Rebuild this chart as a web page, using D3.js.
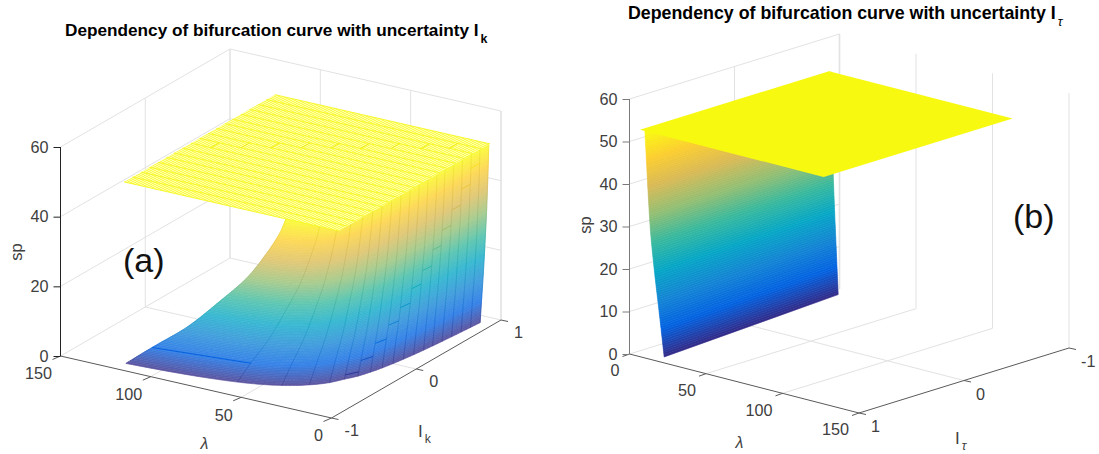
<!DOCTYPE html>
<html><head><meta charset="utf-8">
<script src="https://cdn.jsdelivr.net/npm/d3@7/dist/d3.min.js"></script>
<style>html,body{margin:0;background:#fff}svg{display:block}text{font-family:"Liberation Sans",Arial,sans-serif}</style>
</head><body><svg id="c" width="1099" height="454"></svg>
<script>
const parulaStops=["#352a87","#0363e1","#1485d4","#06a7c6","#38b99e","#92bf73","#d9ba56","#fcce2e","#f9fb0e"];
const lambdaTicks=[0,50,100,150];
const uncertaintyTicks=[-1,0,1];
const spTicksA=[0,20,40,60];
const spTicksB=[0,10,20,30,40,50,60];
const plateSp=52;

// panel (a): wall of the bifurcation surface, lambda per (sp row, Ik column)
const ikGrid=[-.89,-.79,-.69,-.59,-.49,-.39,-.3,-.2,-.1,0,.1,.2,.3,.39,.49,.59,.69,.79,.89];
const spRowsA=[0,6.5,14.5,24,32.5,41,47.6,52];
const lambdaRow0=[119,62,42,31.5,25,21.5,18.2,16,14.2,12.9,11.8,10.8,10,9.3,8.7,8.1,7.5,7,6.4];
const lambdaRow1=[104,54.3,36.8,27.6,21.9,18.8,15.9,14,12.4,11.3,10.3,9.5,8.8,8.1,7.6,7.1,6.6,6.1,5.6];
const lambdaRow2=[85,44.4,30.1,22.6,17.9,15.4,13,11.5,10.2,9.2,8.4,7.7,7.2,6.7,6.2,5.8,5.4,5,4.6];
const lambdaRow3=[67,34.9,23.6,17.7,14.1,12.1,10.2,9,8,7.3,6.6,6.1,5.6,5.2,4.9,4.6,4.2,3.9,3.6];
const lambdaRow4=[52,27.1,18.4,13.8,10.9,9.4,8,7,6.2,5.6,5.2,4.7,4.4,4.1,3.8,3.5,3.3,3.1,2.8];
const lambdaRow5=[40.9,21.3,14.4,10.8,8.6,7.4,6.3,5.5,4.9,4.4,4.1,3.7,3.4,3.2,3,2.8,2.6,2.4,2.2];
const lambdaRow6=[33.7,17.5,11.9,8.9,7.1,6.1,5.2,4.5,4,3.7,3.3,3.1,2.8,2.6,2.5,2.3,2.1,2,1.8];
const lambdaRow7=[30.4,15.8,10.7,8,6.4,5.5,4.6,4.1,3.6,3.3,3,2.8,2.6,2.4,2.2,2.1,1.9,1.8,1.6];
const wallA=[lambdaRow0,lambdaRow1,lambdaRow2,lambdaRow3,lambdaRow4,lambdaRow5,lambdaRow6,lambdaRow7];
const plateLambdaA=[1,120];
// isolated darker mesh segments on the wall: column index and sp level
const dashColumn=[0,5,6,7,8,9,10,11,12,13,14,15,16];
const dashSp=[6.3,1.3,4.7,8.6,12.7,16.6,20.8,24.7,29.4,33.9,38.4,43,47.7];
// isolated mesh segments on the plate
const plateDashColumn=[8,9,10,11,12,13,14,15,16];
const plateDashLambda=[109,97,85,73,61,49,37,25,14];

// panel (b): wall, lambda per (sp row, I_tau edge)
const itauEdges=[.9,-.9];
const spRowsB=[0,10,20,30,52];
const wallB=[[15.8,6],[12.6,4.8],[9.3,3.6],[6.6,2.6],[3.2,1.2]];
const plateLambdaB=[0,120];
const plateItauB=[.9,-.9];

const svg=d3.select("#c");
const parula=d3.scaleLinear().domain(parulaStops.map((_,i)=>i/(parulaStops.length-1)*plateSp)).range(parulaStops).interpolate(d3.interpolateRgb).clamp(true);
const textCol="#404040", gridCol="#e2e2e2", axisCol="#5a5a5a", tickFont=16.2;

// smooth curve through the rows that were read, so the wall has no kinks
function smooth(xs,ys){
  const n=xs.length;
  const m=xs.map((x,i)=>i==0?(ys[1]-ys[0])/(xs[1]-xs[0]):i==n-1?(ys[n-1]-ys[n-2])/(xs[n-1]-xs[n-2]):(ys[i+1]-ys[i-1])/(xs[i+1]-xs[i-1]));
  return x=>{
    const i=Math.max(0,Math.min(n-2,d3.bisectRight(xs,x)-1)),h=xs[i+1]-xs[i],t=(x-xs[i])/h,t2=t*t,t3=t2*t;
    return (2*t3-3*t2+1)*ys[i]+(t3-2*t2+t)*h*m[i]+(-2*t3+3*t2)*ys[i+1]+(t3-t2)*h*m[i+1];
  };
}

function panel(o){
  const g=svg.append("g");
  const lx=d3.scaleLinear([0,150],o.lx), ly=d3.scaleLinear([0,150],o.ly);
  const ux=d3.scaleLinear([-1,1],o.ux), uy=d3.scaleLinear([-1,1],o.uy);
  const zd=d3.scaleLinear([0,60],[0,o.zPx]);
  const P=(l,u,z)=>[lx(l)+ux(u), ly(l)+uy(u)-zd(z)];
  const line=(pts,col,w)=>g.append("polyline").attr("points",pts.join(" ")).attr("fill","none").attr("stroke",col).attr("stroke-width",w);
  // back walls
  o.spTicks.forEach(z=>{
    line([P(o.wallL,o.cornerU,z),P(o.wallL,o.backU,z),P(o.backL,o.backU,z)],gridCol,1);
  });
  uncertaintyTicks.forEach(u=>line([P(o.wallL,u,0),P(o.wallL,u,60)],gridCol,1));
  lambdaTicks.forEach(l=>line([P(l,o.backU,0),P(l,o.backU,60)],gridCol,l==o.backL?1.6:1));
  // floor
  lambdaTicks.slice(1,3).forEach(l=>line([P(l,o.cornerU,0),P(l,o.backU,0)],gridCol,1));
  line([P(o.frontL,0,0),P(o.wallL,0,0)],gridCol,1);

  o.draw(g,P,line);

  // axes lines and oblique ticks
  line([P(o.wallL,o.cornerU,0),P(o.frontL,o.cornerU,0)],axisCol,1);
  line([P(o.frontL,o.cornerU,0),P(o.frontL,o.backU,0)],axisCol,1);
  lambdaTicks.forEach(l=>{const p=P(l,o.cornerU,0);line([p,[p[0]+o.lTick[0],p[1]+o.lTick[1]]],axisCol,1);
    g.append("text").attr("x",p[0]+o.lLab[0]).attr("y",p[1]+o.lLab[1]).attr("text-anchor","end").attr("dominant-baseline","middle").attr("font-size",tickFont).attr("fill",textCol).text(l);});
  uncertaintyTicks.forEach(u=>{const p=P(o.frontL,u,0);line([p,[p[0]+o.uTick[0],p[1]+o.uTick[1]]],axisCol,1);
    g.append("text").attr("x",p[0]+o.uLab[0]).attr("y",p[1]+o.uLab[1]).attr("text-anchor","start").attr("dominant-baseline","middle").attr("font-size",tickFont).attr("fill",textCol).text(u);});
  // vertical axis
  const base=P(o.wallL,o.cornerU,0);
  const zAxis=d3.scaleLinear([0,60],[base[1],base[1]-o.zPx]);
  const ax=g.append("g").attr("transform",`translate(${base[0]},0)`).call(d3.axisLeft(zAxis).tickValues(o.spTicks).tickSize(7).tickPadding(5));
  ax.selectAll("path,line").attr("stroke",o.zAxisCol);
  ax.selectAll("text").attr("font-size",tickFont).attr("fill",textCol).attr("font-family","Liberation Sans");
  ax.select(".domain").attr("d",`M0,${zAxis(0)}V${zAxis(60)}`);
}

const stepSp=d3.range(0,plateSp,0.5);

// Panel (a)
panel({lx:[331.5,60.5],ly:[0,-62],ux:[0,169.5],uy:[418,320],zPx:209,
  wallL:150,frontL:0,cornerU:-1,backU:1,backL:0,spTicks:spTicksA,zAxisCol:"#222",
  lTick:[-8,3.5],uTick:[7,1.5],lLab:[-8.5,19],uLab:[13,14],
  draw(g,P,line){
    const wash=c=>d3.interpolateRgb(c,"#fff")(.2);
    const fns=ikGrid.map((_,j)=>smooth(spRowsA,wallA.map(r=>r[j])));
    // lambda along Ik between ribs follows the reciprocal shape of the edge
    const lam=(u,s)=>{
      const j=Math.max(0,Math.min(ikGrid.length-2,d3.bisectRight(ikGrid,u)-1));
      const t=(u-ikGrid[j])/(ikGrid[j+1]-ikGrid[j]);
      return 1/((1-t)/fns[j](s)+t/fns[j+1](s));
    };
    const stations=ikGrid.flatMap((u,j)=>{
      if(j==ikGrid.length-1) return [u];
      const parts=j<4?8:2;
      return d3.range(parts).map(i=>u+(ikGrid[j+1]-u)*i/parts);
    });
    const cells=stations.slice(0,-1).flatMap((u,i)=>stepSp.map(s=>({u,v:stations[i+1],s})));
    g.append("g").selectAll("polygon").data(cells).join("polygon")
      .attr("points",d=>{const s2=Math.min(d.s+.5,plateSp);
        return [P(lam(d.u,d.s),d.u,d.s),P(lam(d.v,d.s),d.v,d.s),P(lam(d.v,s2),d.v,s2),P(lam(d.u,s2),d.u,s2)].join(" ");})
      .attr("fill",d=>wash(parula(d.s+.25))).attr("stroke",d=>wash(parula(d.s+.25))).attr("stroke-width",.6);
    // ribs
    const ribs=ikGrid.flatMap((u,j)=>d3.range(0,plateSp,2).map(s=>({u,a:fns[j],s})));
    g.append("g").selectAll("line").data(ribs).join("line")
      .attr("x1",d=>P(d.a(d.s),d.u,d.s)[0]).attr("y1",d=>P(d.a(d.s),d.u,d.s)[1])
      .attr("x2",d=>P(d.a(d.s+2),d.u,d.s+2)[0]).attr("y2",d=>P(d.a(d.s+2),d.u,d.s+2)[1])
      .attr("stroke",d=>d3.color(parula(d.s+1)).darker(.35)).attr("stroke-width",.6).attr("stroke-opacity",.6);
    g.append("g").selectAll("line").data(dashColumn.map((j,i)=>({j,s:dashSp[i]}))).join("line")
      .attr("x1",d=>P(fns[d.j](d.s),ikGrid[d.j],d.s)[0]).attr("y1",d=>P(fns[d.j](d.s),ikGrid[d.j],d.s)[1])
      .attr("x2",d=>P(fns[d.j+1](d.s),ikGrid[d.j+1],d.s)[0]).attr("y2",d=>P(fns[d.j+1](d.s),ikGrid[d.j+1],d.s)[1])
      .attr("stroke",d=>parula(d.s)).attr("stroke-width",1);
    // plate
    const defs=svg.append("defs");
    const pat=defs.append("pattern").attr("id","dither").attr("patternUnits","userSpaceOnUse").attr("width",4).attr("height",2);
    pat.append("rect").attr("width",4).attr("height",2).attr("fill","#fbfb52");
    pat.append("rect").attr("x",0).attr("y",0).attr("width",2).attr("height",1).attr("fill","#ffffa4");
    pat.append("rect").attr("x",2).attr("y",1).attr("width",2).attr("height",1).attr("fill","#ffffa4");
    const [l0,l1]=plateLambdaA,u0=ikGrid[0],u1=ikGrid[ikGrid.length-1];
    g.append("polygon").attr("points",[P(l0,u0,plateSp),P(l1,u0,plateSp),P(l1,u1,plateSp),P(l0,u1,plateSp)].join(" ")).attr("fill","url(#dither)");
    g.append("g").selectAll("line").data(ikGrid).join("line")
      .attr("x1",u=>P(l0,u,plateSp)[0]).attr("y1",u=>P(l0,u,plateSp)[1]).attr("x2",u=>P(l1,u,plateSp)[0]).attr("y2",u=>P(l1,u,plateSp)[1])
      .attr("stroke","#f6f622").attr("stroke-width",.9);
    g.append("g").selectAll("line").data(plateDashColumn.map((j,i)=>({j,l:plateDashLambda[i]}))).join("line")
      .attr("x1",d=>P(d.l,ikGrid[d.j],plateSp)[0]).attr("y1",d=>P(d.l,ikGrid[d.j],plateSp)[1])
      .attr("x2",d=>P(d.l,ikGrid[d.j+1],plateSp)[0]).attr("y2",d=>P(d.l,ikGrid[d.j+1],plateSp)[1])
      .attr("stroke","#f0ee10").attr("stroke-width",1);
  }
});

// Panel (b)
panel({lx:[629.5,859],ly:[0,59],ux:[210,0],uy:[289,354],zPx:255,
  wallL:0,frontL:150,cornerU:1,backU:-1,backL:0,spTicks:spTicksB,zAxisCol:"#7a7a7a",
  lTick:[-7,2.5],uTick:[7,1.5],lLab:[-10,18],uLab:[12,15],
  draw(g,P,line){
    const a=smooth(spRowsB,wallB.map(r=>r[0])),b=smooth(spRowsB,wallB.map(r=>r[1])),u0=itauEdges[0],u1=itauEdges[1];
    g.append("g").selectAll("polygon").data(stepSp).join("polygon")
      .attr("points",s=>{const s2=Math.min(s+.5,plateSp);return [P(a(s),u0,s),P(b(s),u1,s),P(b(s2),u1,s2),P(a(s2),u0,s2)].join(" ");})
      .attr("fill",s=>parula(s+.25)).attr("stroke",s=>parula(s+.25)).attr("stroke-width",.6);
    const [l0,l1]=plateLambdaB,[p0,p1]=plateItauB;
    g.append("polygon").attr("points",[P(l0,p0,plateSp),P(l1,p0,plateSp),P(l1,p1,plateSp),P(l0,p1,plateSp)].join(" ")).attr("fill","#f8f911");
  }
});

// Text
function sub(x,y,t,s,size,bold){
  const n=svg.append("text").attr("x",x).attr("y",y).attr("font-size",size).attr("fill",bold?"#000":textCol).attr("font-weight",bold?"bold":"normal");
  n.append("tspan").text(t);
  n.append("tspan").attr("dy",bold?7:6).attr("dx",2).attr("font-size",size*.72).attr("font-style",s=="τ"?"italic":"normal").attr("font-weight",bold&&s!="τ"?"bold":"normal").text(s);
}
sub(65,36,"Dependency of bifurcation curve with uncertainty I","k",17.2,true);
sub(628,19,"Dependency of bifurcation curve with uncertainty I","τ",17.8,true);
const ital=(x,y,t)=>svg.append("text").attr("x",x).attr("y",y).attr("text-anchor","middle").attr("font-size",16).attr("font-style","italic").attr("fill",textCol).text(t);
ital(204.5,449,"λ"); ital(739.5,448,"λ");
sub(418,437,"I","k",17,false);
sub(955,444,"I","τ",17,false);
const rot=(x,y,t)=>svg.append("text").attr("transform",`translate(${x},${y}) rotate(-90)`).attr("text-anchor","middle").attr("font-size",16.5).attr("fill",textCol).text(t);
rot(22,252,"sp"); rot(591,225,"sp");
const big=(x,y,t)=>svg.append("text").attr("x",x).attr("y",y).attr("font-size",34).attr("fill","#111").text(t);
big(123,272,"(a)"); big(1013,228,"(b)");
</script></body></html>
